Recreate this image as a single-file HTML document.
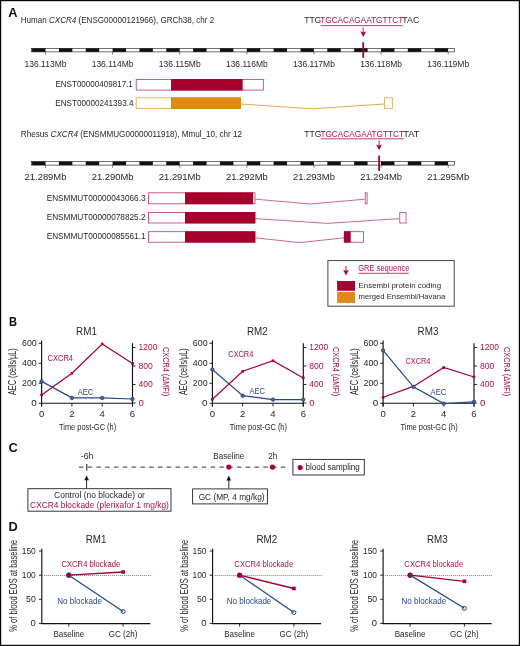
<!DOCTYPE html>
<html><head><meta charset="utf-8"><style>
html,body{margin:0;padding:0;background:#fff;}
svg{display:block;will-change:transform;}
text{font-family:"Liberation Sans",sans-serif;}
</style></head><body>
<svg width="520" height="646" viewBox="0 0 520 646" font-family="Liberation Sans, sans-serif">
<rect x="0.6" y="0.6" width="518.8" height="644.8" fill="#fff" stroke="#060606" stroke-width="1.2"/>
<text x="0" y="0" font-size="12.8" fill="#111" font-weight="bold" transform="translate(8.2,16.8) scale(1.0,1)">A</text>
<text x="0" y="0" font-size="12.8" fill="#111" font-weight="bold" transform="translate(9.1,326.2) scale(0.87,1)">B</text>
<text x="0" y="0" font-size="12.8" fill="#111" font-weight="bold" transform="translate(8.6,452.2) scale(1.0,1)">C</text>
<text x="0" y="0" font-size="12.8" fill="#111" font-weight="bold" transform="translate(8.6,530.8) scale(1.0,1)">D</text>
<text x="20.8" y="22.80" font-size="8.7" fill="#231f20" textLength="193.40" lengthAdjust="spacingAndGlyphs">Human <tspan font-style="italic">CXCR4</tspan> (ENSG00000121966), GRCh38, chr 2</text>
<text x="304.25" y="23.40" font-size="8.7" fill="#231f20" textLength="16.96" lengthAdjust="spacingAndGlyphs" >TTG</text>
<text x="320.31" y="23.40" font-size="8.7" fill="#b0103e" textLength="82.98" lengthAdjust="spacingAndGlyphs" >TGCACAGAATGTTCT</text>
<line x1="320.76" y1="25.60" x2="402.84" y2="25.60" stroke="#b0103e" stroke-width="0.8"/>
<text x="402.39" y="23.40" font-size="8.7" fill="#231f20" textLength="16.96" lengthAdjust="spacingAndGlyphs" >TAC</text>
<line x1="363.2" y1="27.60" x2="363.2" y2="32.60" stroke="#a6002e" stroke-width="0.9"/>
<path d="M360.30,31.20 L363.20,32.50 L366.10,31.20 L363.20,37.00 Z" fill="#a6002e"/>
<rect x="31.3" y="48.30" width="423.20" height="3.6" fill="#fff" stroke="#111" stroke-width="0.6"/>
<rect x="32.08" y="48.30" width="13.42" height="3.6" fill="#111"/>
<rect x="58.92" y="48.30" width="13.42" height="3.6" fill="#111"/>
<rect x="85.76" y="48.30" width="13.42" height="3.6" fill="#111"/>
<rect x="112.60" y="48.30" width="13.42" height="3.6" fill="#111"/>
<rect x="139.44" y="48.30" width="13.42" height="3.6" fill="#111"/>
<rect x="166.28" y="48.30" width="13.42" height="3.6" fill="#111"/>
<rect x="193.12" y="48.30" width="13.42" height="3.6" fill="#111"/>
<rect x="219.96" y="48.30" width="13.42" height="3.6" fill="#111"/>
<rect x="246.80" y="48.30" width="13.42" height="3.6" fill="#111"/>
<rect x="273.64" y="48.30" width="13.42" height="3.6" fill="#111"/>
<rect x="300.48" y="48.30" width="13.42" height="3.6" fill="#111"/>
<rect x="327.32" y="48.30" width="13.42" height="3.6" fill="#111"/>
<rect x="354.16" y="48.30" width="13.42" height="3.6" fill="#111"/>
<rect x="381.00" y="48.30" width="13.42" height="3.6" fill="#111"/>
<rect x="407.84" y="48.30" width="13.42" height="3.6" fill="#111"/>
<rect x="434.68" y="48.30" width="13.42" height="3.6" fill="#111"/>
<line x1="45.50" y1="51.90" x2="45.50" y2="54.60" stroke="#333" stroke-width="0.6"/>
<text x="45.50" y="66.60" font-size="8.4" fill="#231f20" text-anchor="middle" textLength="41.90" lengthAdjust="spacingAndGlyphs" >136.113Mb</text>
<line x1="112.62" y1="51.90" x2="112.62" y2="54.60" stroke="#333" stroke-width="0.6"/>
<text x="112.62" y="66.60" font-size="8.4" fill="#231f20" text-anchor="middle" textLength="41.90" lengthAdjust="spacingAndGlyphs" >136.114Mb</text>
<line x1="179.74" y1="51.90" x2="179.74" y2="54.60" stroke="#333" stroke-width="0.6"/>
<text x="179.74" y="66.60" font-size="8.4" fill="#231f20" text-anchor="middle" textLength="41.90" lengthAdjust="spacingAndGlyphs" >136.115Mb</text>
<line x1="246.86" y1="51.90" x2="246.86" y2="54.60" stroke="#333" stroke-width="0.6"/>
<text x="246.86" y="66.60" font-size="8.4" fill="#231f20" text-anchor="middle" textLength="41.90" lengthAdjust="spacingAndGlyphs" >136.116Mb</text>
<line x1="313.98" y1="51.90" x2="313.98" y2="54.60" stroke="#333" stroke-width="0.6"/>
<text x="313.98" y="66.60" font-size="8.4" fill="#231f20" text-anchor="middle" textLength="41.90" lengthAdjust="spacingAndGlyphs" >136.117Mb</text>
<line x1="381.10" y1="51.90" x2="381.10" y2="54.60" stroke="#333" stroke-width="0.6"/>
<text x="381.10" y="66.60" font-size="8.4" fill="#231f20" text-anchor="middle" textLength="41.90" lengthAdjust="spacingAndGlyphs" >136.118Mb</text>
<line x1="448.22" y1="51.90" x2="448.22" y2="54.60" stroke="#333" stroke-width="0.6"/>
<text x="448.22" y="66.60" font-size="8.4" fill="#231f20" text-anchor="middle" textLength="41.90" lengthAdjust="spacingAndGlyphs" >136.119Mb</text>
<line x1="363.2" y1="42.30" x2="363.2" y2="57.80" stroke="#a6002e" stroke-width="1.8"/>
<text x="20.8" y="136.60" font-size="8.7" fill="#231f20" textLength="221.30" lengthAdjust="spacingAndGlyphs">Rhesus <tspan font-style="italic">CXCR4</tspan> (ENSMMUG00000011918), Mmul_10, chr 12</text>
<text x="304.25" y="136.60" font-size="8.7" fill="#231f20" textLength="17.08" lengthAdjust="spacingAndGlyphs" >TTG</text>
<text x="320.43" y="136.60" font-size="8.7" fill="#b0103e" textLength="83.63" lengthAdjust="spacingAndGlyphs" >TGCACAGAATGTTCT</text>
<line x1="320.88" y1="138.80" x2="403.61" y2="138.80" stroke="#b0103e" stroke-width="0.8"/>
<text x="403.16" y="136.60" font-size="8.7" fill="#231f20" textLength="16.19" lengthAdjust="spacingAndGlyphs" >TAT</text>
<line x1="379.1" y1="140.80" x2="379.1" y2="145.80" stroke="#a6002e" stroke-width="0.9"/>
<path d="M376.20,144.40 L379.10,145.70 L382.00,144.40 L379.10,150.20 Z" fill="#a6002e"/>
<rect x="31.3" y="161.50" width="423.20" height="3.6" fill="#fff" stroke="#111" stroke-width="0.6"/>
<rect x="32.08" y="161.50" width="13.42" height="3.6" fill="#111"/>
<rect x="58.92" y="161.50" width="13.42" height="3.6" fill="#111"/>
<rect x="85.76" y="161.50" width="13.42" height="3.6" fill="#111"/>
<rect x="112.60" y="161.50" width="13.42" height="3.6" fill="#111"/>
<rect x="139.44" y="161.50" width="13.42" height="3.6" fill="#111"/>
<rect x="166.28" y="161.50" width="13.42" height="3.6" fill="#111"/>
<rect x="193.12" y="161.50" width="13.42" height="3.6" fill="#111"/>
<rect x="219.96" y="161.50" width="13.42" height="3.6" fill="#111"/>
<rect x="246.80" y="161.50" width="13.42" height="3.6" fill="#111"/>
<rect x="273.64" y="161.50" width="13.42" height="3.6" fill="#111"/>
<rect x="300.48" y="161.50" width="13.42" height="3.6" fill="#111"/>
<rect x="327.32" y="161.50" width="13.42" height="3.6" fill="#111"/>
<rect x="354.16" y="161.50" width="13.42" height="3.6" fill="#111"/>
<rect x="381.00" y="161.50" width="13.42" height="3.6" fill="#111"/>
<rect x="407.84" y="161.50" width="13.42" height="3.6" fill="#111"/>
<rect x="434.68" y="161.50" width="13.42" height="3.6" fill="#111"/>
<line x1="45.50" y1="165.10" x2="45.50" y2="167.80" stroke="#333" stroke-width="0.6"/>
<text x="45.50" y="179.60" font-size="8.4" fill="#231f20" text-anchor="middle" textLength="41.90" lengthAdjust="spacingAndGlyphs" >21.289Mb</text>
<line x1="112.62" y1="165.10" x2="112.62" y2="167.80" stroke="#333" stroke-width="0.6"/>
<text x="112.62" y="179.60" font-size="8.4" fill="#231f20" text-anchor="middle" textLength="41.90" lengthAdjust="spacingAndGlyphs" >21.290Mb</text>
<line x1="179.74" y1="165.10" x2="179.74" y2="167.80" stroke="#333" stroke-width="0.6"/>
<text x="179.74" y="179.60" font-size="8.4" fill="#231f20" text-anchor="middle" textLength="41.90" lengthAdjust="spacingAndGlyphs" >21.291Mb</text>
<line x1="246.86" y1="165.10" x2="246.86" y2="167.80" stroke="#333" stroke-width="0.6"/>
<text x="246.86" y="179.60" font-size="8.4" fill="#231f20" text-anchor="middle" textLength="41.90" lengthAdjust="spacingAndGlyphs" >21.292Mb</text>
<line x1="313.98" y1="165.10" x2="313.98" y2="167.80" stroke="#333" stroke-width="0.6"/>
<text x="313.98" y="179.60" font-size="8.4" fill="#231f20" text-anchor="middle" textLength="41.90" lengthAdjust="spacingAndGlyphs" >21.293Mb</text>
<line x1="381.10" y1="165.10" x2="381.10" y2="167.80" stroke="#333" stroke-width="0.6"/>
<text x="381.10" y="179.60" font-size="8.4" fill="#231f20" text-anchor="middle" textLength="41.90" lengthAdjust="spacingAndGlyphs" >21.294Mb</text>
<line x1="448.22" y1="165.10" x2="448.22" y2="167.80" stroke="#333" stroke-width="0.6"/>
<text x="448.22" y="179.60" font-size="8.4" fill="#231f20" text-anchor="middle" textLength="41.90" lengthAdjust="spacingAndGlyphs" >21.295Mb</text>
<line x1="379.1" y1="155.50" x2="379.1" y2="171.00" stroke="#a6002e" stroke-width="1.8"/>
<rect x="136.20" y="79.40" width="127.10" height="10.70" fill="#fff" stroke="#c03a5c" stroke-width="0.8"/>
<rect x="171.00" y="79.00" width="71.70" height="11.50" fill="#a6002e"/>
<text x="132.85" y="87.40" font-size="8.6" fill="#231f20" text-anchor="end" textLength="77.40" lengthAdjust="spacingAndGlyphs" >ENST00000409817.1</text>
<rect x="136.20" y="97.80" width="104.40" height="10.80" fill="#fff" stroke="#e6a245" stroke-width="0.8"/>
<rect x="171.00" y="97.40" width="70.00" height="11.60" fill="#df8a16"/>
<polyline points="241.00,104.00 312.60,108.80 384.20,104.00" fill="none" stroke="#df8a16" stroke-width="0.75"/>
<rect x="384.60" y="97.80" width="7.70" height="10.70" fill="#fff" stroke="#e6a245" stroke-width="0.8"/>
<text x="133.45" y="106.10" font-size="8.6" fill="#231f20" text-anchor="end" textLength="78.20" lengthAdjust="spacingAndGlyphs" >ENST00000241393.4</text>
<rect x="148.50" y="192.80" width="106.50" height="11.00" fill="#fff" stroke="#c03a5c" stroke-width="0.8"/>
<rect x="185.00" y="192.40" width="68.10" height="11.80" fill="#a6002e"/>
<polyline points="255.40,199.20 310.10,204.00 364.80,199.20" fill="none" stroke="#c03a5c" stroke-width="0.75"/>
<rect x="365.20" y="192.80" width="1.90" height="11.00" fill="#fff" stroke="#c03a5c" stroke-width="0.8"/>
<text x="145.55" y="201.00" font-size="8.8" fill="#231f20" text-anchor="end" textLength="98.90" lengthAdjust="spacingAndGlyphs" >ENSMMUT00000043066.3</text>
<rect x="148.50" y="212.40" width="106.40" height="10.60" fill="#fff" stroke="#c03a5c" stroke-width="0.8"/>
<rect x="185.00" y="212.00" width="70.30" height="11.40" fill="#a6002e"/>
<polyline points="255.30,218.60 327.35,223.40 399.40,218.60" fill="none" stroke="#c03a5c" stroke-width="0.75"/>
<rect x="399.80" y="212.40" width="6.30" height="10.60" fill="#fff" stroke="#c03a5c" stroke-width="0.8"/>
<text x="145.55" y="220.20" font-size="8.8" fill="#231f20" text-anchor="end" textLength="98.90" lengthAdjust="spacingAndGlyphs" >ENSMMUT00000078825.2</text>
<rect x="148.50" y="231.70" width="106.40" height="10.50" fill="#fff" stroke="#c03a5c" stroke-width="0.8"/>
<rect x="185.00" y="231.30" width="70.30" height="11.30" fill="#a6002e"/>
<polyline points="255.30,237.85 299.60,242.65 343.90,237.85" fill="none" stroke="#c03a5c" stroke-width="0.75"/>
<rect x="344.30" y="231.70" width="19.10" height="10.50" fill="#fff" stroke="#c03a5c" stroke-width="0.8"/>
<rect x="343.90" y="231.30" width="6.80" height="11.30" fill="#a6002e"/>
<text x="145.55" y="239.40" font-size="8.8" fill="#231f20" text-anchor="end" textLength="98.90" lengthAdjust="spacingAndGlyphs" >ENSMMUT00000085561.1</text>
<rect x="327.9" y="260.6" width="126.3" height="45.6" fill="none" stroke="#333" stroke-width="0.9"/>
<line x1="346" y1="266" x2="346" y2="271" stroke="#a6002e" stroke-width="0.9"/>
<path d="M343.1,269.7 L346,271.0 L348.9,269.7 L346,275.6 Z" fill="#a6002e"/>
<text x="358.25" y="270.50" font-size="8.4" fill="#b0103e" textLength="51.10" lengthAdjust="spacingAndGlyphs" >GRE sequence</text>
<line x1="358.7" y1="273.3" x2="408.7" y2="273.3" stroke="#b0103e" stroke-width="0.8"/>
<rect x="337.1" y="281.0" width="17.9" height="9.8" fill="#a6002e"/>
<rect x="337.1" y="291.9" width="17.9" height="11.0" fill="#df8a16"/>
<text x="358.55" y="288.20" font-size="7.9" fill="#231f20" textLength="82.50" lengthAdjust="spacingAndGlyphs" >Ensembl protein coding</text>
<text x="358.55" y="298.90" font-size="7.9" fill="#231f20" textLength="86.70" lengthAdjust="spacingAndGlyphs" >merged Ensembl/Havana</text>
<text x="86.50" y="334.50" font-size="11.3" fill="#231f20" text-anchor="middle" textLength="20.80" lengthAdjust="spacingAndGlyphs" >RM1</text>
<line x1="41.6" y1="340.6" x2="41.6" y2="406.6" stroke="#111" stroke-width="1.15"/>
<line x1="132.50" y1="343.2" x2="132.50" y2="406.6" stroke="#111" stroke-width="1.15"/>
<line x1="41.1" y1="403.3" x2="133.00" y2="403.3" stroke="#111" stroke-width="1.1"/>
<line x1="41.60" y1="403.3" x2="41.60" y2="406.6" stroke="#111" stroke-width="0.9"/>
<text x="41.60" y="416.80" font-size="9.0" fill="#231f20" text-anchor="middle" textLength="5.30" lengthAdjust="spacingAndGlyphs" >0</text>
<line x1="71.90" y1="403.3" x2="71.90" y2="406.6" stroke="#111" stroke-width="0.9"/>
<text x="71.90" y="416.80" font-size="9.0" fill="#231f20" text-anchor="middle" textLength="5.30" lengthAdjust="spacingAndGlyphs" >2</text>
<line x1="102.20" y1="403.3" x2="102.20" y2="406.6" stroke="#111" stroke-width="0.9"/>
<text x="102.20" y="416.80" font-size="9.0" fill="#231f20" text-anchor="middle" textLength="5.30" lengthAdjust="spacingAndGlyphs" >4</text>
<line x1="132.50" y1="403.3" x2="132.50" y2="406.6" stroke="#111" stroke-width="0.9"/>
<text x="132.50" y="416.80" font-size="9.0" fill="#231f20" text-anchor="middle" textLength="5.30" lengthAdjust="spacingAndGlyphs" >6</text>
<line x1="38.70" y1="403.30" x2="41.6" y2="403.30" stroke="#111" stroke-width="0.9"/>
<text x="36.75" y="406.10" font-size="9.0" fill="#231f20" text-anchor="end" textLength="5.50" lengthAdjust="spacingAndGlyphs" >0</text>
<line x1="38.70" y1="383.30" x2="41.6" y2="383.30" stroke="#111" stroke-width="0.9"/>
<text x="36.75" y="386.10" font-size="9.0" fill="#231f20" text-anchor="end" textLength="14.70" lengthAdjust="spacingAndGlyphs" >200</text>
<line x1="38.70" y1="363.30" x2="41.6" y2="363.30" stroke="#111" stroke-width="0.9"/>
<text x="36.75" y="366.10" font-size="9.0" fill="#231f20" text-anchor="end" textLength="14.70" lengthAdjust="spacingAndGlyphs" >400</text>
<line x1="38.70" y1="343.30" x2="41.6" y2="343.30" stroke="#111" stroke-width="0.9"/>
<text x="36.75" y="346.10" font-size="9.0" fill="#231f20" text-anchor="end" textLength="14.70" lengthAdjust="spacingAndGlyphs" >600</text>
<line x1="132.50" y1="403.00" x2="135.50" y2="403.00" stroke="#111" stroke-width="0.9"/>
<text x="138.55" y="405.60" font-size="9.0" fill="#b0103e" textLength="5.37" lengthAdjust="spacingAndGlyphs" >0</text>
<line x1="132.50" y1="384.50" x2="135.50" y2="384.50" stroke="#111" stroke-width="0.9"/>
<text x="138.55" y="387.10" font-size="9.0" fill="#b0103e" textLength="14.31" lengthAdjust="spacingAndGlyphs" >400</text>
<line x1="132.50" y1="366.00" x2="135.50" y2="366.00" stroke="#111" stroke-width="0.9"/>
<text x="138.55" y="368.60" font-size="9.0" fill="#b0103e" textLength="14.31" lengthAdjust="spacingAndGlyphs" >800</text>
<line x1="132.50" y1="347.50" x2="135.50" y2="347.50" stroke="#111" stroke-width="0.9"/>
<text x="138.55" y="350.10" font-size="9.0" fill="#b0103e" textLength="18.78" lengthAdjust="spacingAndGlyphs" >1200</text>
<text x="0" y="0" font-size="10" fill="#231f20" textLength="46.8" lengthAdjust="spacingAndGlyphs" transform="translate(16.10,395.0) rotate(-90)">AEC (cells/µL)</text>
<text x="0" y="0" font-size="9.4" fill="#b0103e" textLength="49.2" lengthAdjust="spacingAndGlyphs" transform="translate(162.50,347.0) rotate(90)">CXCR4 (ΔMFI)</text>
<text x="87.60" y="430.00" font-size="9.8" fill="#231f20" text-anchor="middle" textLength="57.20" lengthAdjust="spacingAndGlyphs" >Time post-GC (h)</text>
<polyline points="41.60,394.90 71.90,373.30 102.20,344.00 132.50,363.40" fill="none" stroke="#a6002e" stroke-width="1.2"/>
<polyline points="41.60,381.40 71.90,397.90 102.20,397.90 132.50,399.00" fill="none" stroke="#27478a" stroke-width="1.2"/>
<rect x="40.30" y="393.60" width="2.6" height="2.6" fill="#a6002e"/>
<rect x="70.60" y="372.00" width="2.6" height="2.6" fill="#a6002e"/>
<rect x="100.90" y="342.70" width="2.6" height="2.6" fill="#a6002e"/>
<rect x="131.20" y="362.10" width="2.6" height="2.6" fill="#a6002e"/>
<circle cx="41.60" cy="381.40" r="1.7" fill="#4a66a0" stroke="#27478a" stroke-width="0.9"/>
<circle cx="71.90" cy="397.90" r="1.7" fill="#4a66a0" stroke="#27478a" stroke-width="0.9"/>
<circle cx="102.20" cy="397.90" r="1.7" fill="#4a66a0" stroke="#27478a" stroke-width="0.9"/>
<circle cx="132.50" cy="399.00" r="1.7" fill="#4a66a0" stroke="#27478a" stroke-width="0.9"/>
<text x="47.55" y="360.80" font-size="8.7" fill="#b0103e" textLength="25.50" lengthAdjust="spacingAndGlyphs" >CXCR4</text>
<text x="77.65" y="395.00" font-size="8.4" fill="#27478a" textLength="15.70" lengthAdjust="spacingAndGlyphs" >AEC</text>
<text x="257.30" y="334.50" font-size="11.3" fill="#231f20" text-anchor="middle" textLength="20.80" lengthAdjust="spacingAndGlyphs" >RM2</text>
<line x1="212.4" y1="340.6" x2="212.4" y2="406.6" stroke="#111" stroke-width="1.15"/>
<line x1="303.30" y1="343.2" x2="303.30" y2="406.6" stroke="#111" stroke-width="1.15"/>
<line x1="211.9" y1="403.3" x2="303.80" y2="403.3" stroke="#111" stroke-width="1.1"/>
<line x1="212.40" y1="403.3" x2="212.40" y2="406.6" stroke="#111" stroke-width="0.9"/>
<text x="212.40" y="416.80" font-size="9.0" fill="#231f20" text-anchor="middle" textLength="5.30" lengthAdjust="spacingAndGlyphs" >0</text>
<line x1="242.70" y1="403.3" x2="242.70" y2="406.6" stroke="#111" stroke-width="0.9"/>
<text x="242.70" y="416.80" font-size="9.0" fill="#231f20" text-anchor="middle" textLength="5.30" lengthAdjust="spacingAndGlyphs" >2</text>
<line x1="273.00" y1="403.3" x2="273.00" y2="406.6" stroke="#111" stroke-width="0.9"/>
<text x="273.00" y="416.80" font-size="9.0" fill="#231f20" text-anchor="middle" textLength="5.30" lengthAdjust="spacingAndGlyphs" >4</text>
<line x1="303.30" y1="403.3" x2="303.30" y2="406.6" stroke="#111" stroke-width="0.9"/>
<text x="303.30" y="416.80" font-size="9.0" fill="#231f20" text-anchor="middle" textLength="5.30" lengthAdjust="spacingAndGlyphs" >6</text>
<line x1="209.50" y1="403.30" x2="212.4" y2="403.30" stroke="#111" stroke-width="0.9"/>
<text x="207.55" y="406.10" font-size="9.0" fill="#231f20" text-anchor="end" textLength="5.50" lengthAdjust="spacingAndGlyphs" >0</text>
<line x1="209.50" y1="383.30" x2="212.4" y2="383.30" stroke="#111" stroke-width="0.9"/>
<text x="207.55" y="386.10" font-size="9.0" fill="#231f20" text-anchor="end" textLength="14.70" lengthAdjust="spacingAndGlyphs" >200</text>
<line x1="209.50" y1="363.30" x2="212.4" y2="363.30" stroke="#111" stroke-width="0.9"/>
<text x="207.55" y="366.10" font-size="9.0" fill="#231f20" text-anchor="end" textLength="14.70" lengthAdjust="spacingAndGlyphs" >400</text>
<line x1="209.50" y1="343.30" x2="212.4" y2="343.30" stroke="#111" stroke-width="0.9"/>
<text x="207.55" y="346.10" font-size="9.0" fill="#231f20" text-anchor="end" textLength="14.70" lengthAdjust="spacingAndGlyphs" >600</text>
<line x1="303.30" y1="403.00" x2="306.30" y2="403.00" stroke="#111" stroke-width="0.9"/>
<text x="309.35" y="405.60" font-size="9.0" fill="#b0103e" textLength="5.37" lengthAdjust="spacingAndGlyphs" >0</text>
<line x1="303.30" y1="384.50" x2="306.30" y2="384.50" stroke="#111" stroke-width="0.9"/>
<text x="309.35" y="387.10" font-size="9.0" fill="#b0103e" textLength="14.31" lengthAdjust="spacingAndGlyphs" >400</text>
<line x1="303.30" y1="366.00" x2="306.30" y2="366.00" stroke="#111" stroke-width="0.9"/>
<text x="309.35" y="368.60" font-size="9.0" fill="#b0103e" textLength="14.31" lengthAdjust="spacingAndGlyphs" >800</text>
<line x1="303.30" y1="347.50" x2="306.30" y2="347.50" stroke="#111" stroke-width="0.9"/>
<text x="309.35" y="350.10" font-size="9.0" fill="#b0103e" textLength="18.78" lengthAdjust="spacingAndGlyphs" >1200</text>
<text x="0" y="0" font-size="10" fill="#231f20" textLength="46.8" lengthAdjust="spacingAndGlyphs" transform="translate(186.90,395.0) rotate(-90)">AEC (cells/µL)</text>
<text x="0" y="0" font-size="9.4" fill="#b0103e" textLength="49.2" lengthAdjust="spacingAndGlyphs" transform="translate(333.30,347.0) rotate(90)">CXCR4 (ΔMFI)</text>
<text x="258.40" y="430.00" font-size="9.8" fill="#231f20" text-anchor="middle" textLength="57.20" lengthAdjust="spacingAndGlyphs" >Time post-GC (h)</text>
<polyline points="212.40,399.20 242.70,371.30 273.00,360.70 303.30,377.90" fill="none" stroke="#a6002e" stroke-width="1.2"/>
<polyline points="212.40,369.50 242.70,395.70 273.00,399.60 303.30,399.60" fill="none" stroke="#27478a" stroke-width="1.2"/>
<rect x="211.10" y="397.90" width="2.6" height="2.6" fill="#a6002e"/>
<rect x="241.40" y="370.00" width="2.6" height="2.6" fill="#a6002e"/>
<rect x="271.70" y="359.40" width="2.6" height="2.6" fill="#a6002e"/>
<rect x="302.00" y="376.60" width="2.6" height="2.6" fill="#a6002e"/>
<circle cx="212.40" cy="369.50" r="1.7" fill="#4a66a0" stroke="#27478a" stroke-width="0.9"/>
<circle cx="242.70" cy="395.70" r="1.7" fill="#4a66a0" stroke="#27478a" stroke-width="0.9"/>
<circle cx="273.00" cy="399.60" r="1.7" fill="#4a66a0" stroke="#27478a" stroke-width="0.9"/>
<circle cx="303.30" cy="399.60" r="1.7" fill="#4a66a0" stroke="#27478a" stroke-width="0.9"/>
<text x="228.35" y="357.00" font-size="8.7" fill="#b0103e" textLength="24.90" lengthAdjust="spacingAndGlyphs" >CXCR4</text>
<text x="249.45" y="393.60" font-size="8.4" fill="#27478a" textLength="15.70" lengthAdjust="spacingAndGlyphs" >AEC</text>
<text x="428.00" y="334.50" font-size="11.3" fill="#231f20" text-anchor="middle" textLength="20.80" lengthAdjust="spacingAndGlyphs" >RM3</text>
<line x1="383.1" y1="340.6" x2="383.1" y2="406.6" stroke="#111" stroke-width="1.15"/>
<line x1="474.00" y1="343.2" x2="474.00" y2="406.6" stroke="#111" stroke-width="1.15"/>
<line x1="382.6" y1="403.3" x2="474.50" y2="403.3" stroke="#111" stroke-width="1.1"/>
<line x1="383.10" y1="403.3" x2="383.10" y2="406.6" stroke="#111" stroke-width="0.9"/>
<text x="383.10" y="416.80" font-size="9.0" fill="#231f20" text-anchor="middle" textLength="5.30" lengthAdjust="spacingAndGlyphs" >0</text>
<line x1="413.40" y1="403.3" x2="413.40" y2="406.6" stroke="#111" stroke-width="0.9"/>
<text x="413.40" y="416.80" font-size="9.0" fill="#231f20" text-anchor="middle" textLength="5.30" lengthAdjust="spacingAndGlyphs" >2</text>
<line x1="443.70" y1="403.3" x2="443.70" y2="406.6" stroke="#111" stroke-width="0.9"/>
<text x="443.70" y="416.80" font-size="9.0" fill="#231f20" text-anchor="middle" textLength="5.30" lengthAdjust="spacingAndGlyphs" >4</text>
<line x1="474.00" y1="403.3" x2="474.00" y2="406.6" stroke="#111" stroke-width="0.9"/>
<text x="474.00" y="416.80" font-size="9.0" fill="#231f20" text-anchor="middle" textLength="5.30" lengthAdjust="spacingAndGlyphs" >6</text>
<line x1="380.20" y1="403.30" x2="383.1" y2="403.30" stroke="#111" stroke-width="0.9"/>
<text x="378.25" y="406.10" font-size="9.0" fill="#231f20" text-anchor="end" textLength="5.50" lengthAdjust="spacingAndGlyphs" >0</text>
<line x1="380.20" y1="383.30" x2="383.1" y2="383.30" stroke="#111" stroke-width="0.9"/>
<text x="378.25" y="386.10" font-size="9.0" fill="#231f20" text-anchor="end" textLength="14.70" lengthAdjust="spacingAndGlyphs" >200</text>
<line x1="380.20" y1="363.30" x2="383.1" y2="363.30" stroke="#111" stroke-width="0.9"/>
<text x="378.25" y="366.10" font-size="9.0" fill="#231f20" text-anchor="end" textLength="14.70" lengthAdjust="spacingAndGlyphs" >400</text>
<line x1="380.20" y1="343.30" x2="383.1" y2="343.30" stroke="#111" stroke-width="0.9"/>
<text x="378.25" y="346.10" font-size="9.0" fill="#231f20" text-anchor="end" textLength="14.70" lengthAdjust="spacingAndGlyphs" >600</text>
<line x1="474.00" y1="403.00" x2="477.00" y2="403.00" stroke="#111" stroke-width="0.9"/>
<text x="480.05" y="405.60" font-size="9.0" fill="#b0103e" textLength="5.37" lengthAdjust="spacingAndGlyphs" >0</text>
<line x1="474.00" y1="384.50" x2="477.00" y2="384.50" stroke="#111" stroke-width="0.9"/>
<text x="480.05" y="387.10" font-size="9.0" fill="#b0103e" textLength="14.31" lengthAdjust="spacingAndGlyphs" >400</text>
<line x1="474.00" y1="366.00" x2="477.00" y2="366.00" stroke="#111" stroke-width="0.9"/>
<text x="480.05" y="368.60" font-size="9.0" fill="#b0103e" textLength="14.31" lengthAdjust="spacingAndGlyphs" >800</text>
<line x1="474.00" y1="347.50" x2="477.00" y2="347.50" stroke="#111" stroke-width="0.9"/>
<text x="480.05" y="350.10" font-size="9.0" fill="#b0103e" textLength="18.78" lengthAdjust="spacingAndGlyphs" >1200</text>
<text x="0" y="0" font-size="10" fill="#231f20" textLength="46.8" lengthAdjust="spacingAndGlyphs" transform="translate(357.60,395.0) rotate(-90)">AEC (cells/µL)</text>
<text x="0" y="0" font-size="9.4" fill="#b0103e" textLength="49.2" lengthAdjust="spacingAndGlyphs" transform="translate(504.00,347.0) rotate(90)">CXCR4 (ΔMFI)</text>
<text x="429.10" y="430.00" font-size="9.8" fill="#231f20" text-anchor="middle" textLength="57.20" lengthAdjust="spacingAndGlyphs" >Time post-GC (h)</text>
<polyline points="383.10,397.30 413.40,386.40 443.70,367.50 474.00,377.00" fill="none" stroke="#a6002e" stroke-width="1.2"/>
<polyline points="383.10,350.40 413.40,386.90 443.70,403.60 474.00,401.80" fill="none" stroke="#27478a" stroke-width="1.2"/>
<rect x="381.80" y="396.00" width="2.6" height="2.6" fill="#a6002e"/>
<rect x="412.10" y="385.10" width="2.6" height="2.6" fill="#a6002e"/>
<rect x="442.40" y="366.20" width="2.6" height="2.6" fill="#a6002e"/>
<rect x="472.70" y="375.70" width="2.6" height="2.6" fill="#a6002e"/>
<circle cx="383.10" cy="350.40" r="1.7" fill="#4a66a0" stroke="#27478a" stroke-width="0.9"/>
<circle cx="413.40" cy="386.90" r="1.7" fill="#4a66a0" stroke="#27478a" stroke-width="0.9"/>
<circle cx="443.70" cy="403.60" r="1.7" fill="#4a66a0" stroke="#27478a" stroke-width="0.9"/>
<circle cx="474.00" cy="401.80" r="1.7" fill="#4a66a0" stroke="#27478a" stroke-width="0.9"/>
<text x="405.55" y="363.70" font-size="8.7" fill="#b0103e" textLength="24.90" lengthAdjust="spacingAndGlyphs" >CXCR4</text>
<text x="430.55" y="394.60" font-size="8.4" fill="#27478a" textLength="15.70" lengthAdjust="spacingAndGlyphs" >AEC</text>
<line x1="78.9" y1="467.1" x2="285.6" y2="467.1" stroke="#585858" stroke-width="1.45" stroke-dasharray="4.5 4.28"/>
<line x1="86.7" y1="464.0" x2="86.7" y2="470.7" stroke="#585858" stroke-width="1.4"/>
<text x="80.75" y="459.30" font-size="8.3" fill="#231f20" textLength="12.60" lengthAdjust="spacingAndGlyphs" >-6h</text>
<text x="213.35" y="459.30" font-size="8.3" fill="#231f20" textLength="30.90" lengthAdjust="spacingAndGlyphs" >Baseline</text>
<text x="268.25" y="459.30" font-size="8.3" fill="#231f20" textLength="9.10" lengthAdjust="spacingAndGlyphs" >2h</text>
<circle cx="228.8" cy="467.1" r="2.6" fill="#a6002e"/>
<circle cx="272.5" cy="467.1" r="2.6" fill="#a6002e"/>
<line x1="86.6" y1="478.20" x2="86.6" y2="488.60" stroke="#111" stroke-width="0.9"/>
<path d="M84.30,480.20 L88.90,480.20 L86.60,475.20 Z" fill="#111"/>
<line x1="228.8" y1="478.40" x2="228.8" y2="488.60" stroke="#111" stroke-width="0.9"/>
<path d="M226.50,480.40 L231.10,480.40 L228.80,475.40 Z" fill="#111"/>
<rect x="27.9" y="488.7" width="143.1" height="22.5" fill="#fff" stroke="#222" stroke-width="0.9"/>
<text x="99.50" y="497.60" font-size="8.9" fill="#231f20" text-anchor="middle" textLength="90.90" lengthAdjust="spacingAndGlyphs" >Control (no blockade) or</text>
<text x="99.50" y="507.70" font-size="8.9" fill="#b0103e" text-anchor="middle" textLength="138.80" lengthAdjust="spacingAndGlyphs" >CXCR4 blockade (plerixafor 1 mg/kg)</text>
<rect x="192.6" y="488.9" width="74.8" height="15.0" fill="#fff" stroke="#222" stroke-width="0.9"/>
<text x="198.65" y="499.60" font-size="8.4" fill="#231f20" textLength="65.90" lengthAdjust="spacingAndGlyphs" >GC (MP, 4 mg/kg)</text>
<rect x="292.9" y="459.4" width="71.4" height="15.6" fill="#fff" stroke="#222" stroke-width="0.9"/>
<circle cx="300.2" cy="467.6" r="2.6" fill="#a6002e"/>
<text x="305.55" y="470.40" font-size="8.3" fill="#231f20" textLength="54.30" lengthAdjust="spacingAndGlyphs" >blood sampling</text>
<text x="96.00" y="542.80" font-size="11.3" fill="#231f20" text-anchor="middle" textLength="20.70" lengthAdjust="spacingAndGlyphs" >RM1</text>
<line x1="41.8" y1="548.8" x2="41.8" y2="624.1" stroke="#111" stroke-width="1.15"/>
<line x1="41.3" y1="623.6" x2="150.30" y2="623.6" stroke="#111" stroke-width="1.1"/>
<line x1="38.90" y1="623.40" x2="41.8" y2="623.40" stroke="#111" stroke-width="0.9"/>
<text x="35.75" y="626.40" font-size="8.8" fill="#231f20" text-anchor="end" textLength="5.27" lengthAdjust="spacingAndGlyphs" >0</text>
<line x1="38.90" y1="599.27" x2="41.8" y2="599.27" stroke="#111" stroke-width="0.9"/>
<text x="35.75" y="602.27" font-size="8.8" fill="#231f20" text-anchor="end" textLength="9.64" lengthAdjust="spacingAndGlyphs" >50</text>
<line x1="38.90" y1="575.15" x2="41.8" y2="575.15" stroke="#111" stroke-width="0.9"/>
<text x="35.75" y="578.15" font-size="8.8" fill="#231f20" text-anchor="end" textLength="14.01" lengthAdjust="spacingAndGlyphs" >100</text>
<line x1="38.90" y1="551.02" x2="41.8" y2="551.02" stroke="#111" stroke-width="0.9"/>
<text x="35.75" y="554.02" font-size="8.8" fill="#231f20" text-anchor="end" textLength="14.01" lengthAdjust="spacingAndGlyphs" >150</text>
<line x1="68.80" y1="623.6" x2="68.80" y2="626.5" stroke="#111" stroke-width="0.9"/>
<line x1="123.10" y1="623.6" x2="123.10" y2="626.5" stroke="#111" stroke-width="0.9"/>
<text x="68.80" y="636.50" font-size="8.3" fill="#231f20" text-anchor="middle" textLength="30.70" lengthAdjust="spacingAndGlyphs" >Baseline</text>
<text x="123.10" y="636.50" font-size="8.3" fill="#231f20" text-anchor="middle" textLength="28.60" lengthAdjust="spacingAndGlyphs" >GC (2h)</text>
<text x="0" y="0" font-size="11" fill="#231f20" textLength="91.8" lengthAdjust="spacingAndGlyphs" transform="translate(16.80,631.7) rotate(-90)">% of blood EOS at baseline</text>
<line x1="43.90" y1="575.5" x2="150.90" y2="575.5" stroke="#4d6ca6" stroke-width="0.85" stroke-dasharray="1 1"/>
<circle cx="123.10" cy="611.50" r="2.0" fill="#fff" stroke="#27478a" stroke-width="1.0"/>
<line x1="68.80" y1="575.15" x2="123.10" y2="611.50" stroke="#27478a" stroke-width="1.25"/>
<line x1="68.80" y1="575.15" x2="123.10" y2="572.00" stroke="#a6002e" stroke-width="1.35"/>
<circle cx="68.80" cy="575.15" r="2.7" fill="#27478a"/>
<circle cx="68.80" cy="575.15" r="2.3" fill="#a6002e"/>
<rect x="121.30" y="570.20" width="3.6" height="3.6" fill="#a6002e"/>
<text x="61.45" y="567.40" font-size="8.3" fill="#b0103e" textLength="58.80" lengthAdjust="spacingAndGlyphs" >CXCR4 blockade</text>
<text x="57.25" y="603.50" font-size="8.4" fill="#27478a" textLength="44.70" lengthAdjust="spacingAndGlyphs" >No blockade</text>
<text x="266.80" y="542.80" font-size="11.3" fill="#231f20" text-anchor="middle" textLength="20.70" lengthAdjust="spacingAndGlyphs" >RM2</text>
<line x1="212.6" y1="548.8" x2="212.6" y2="624.1" stroke="#111" stroke-width="1.15"/>
<line x1="212.1" y1="623.6" x2="321.10" y2="623.6" stroke="#111" stroke-width="1.1"/>
<line x1="209.70" y1="623.40" x2="212.6" y2="623.40" stroke="#111" stroke-width="0.9"/>
<text x="206.55" y="626.40" font-size="8.8" fill="#231f20" text-anchor="end" textLength="5.27" lengthAdjust="spacingAndGlyphs" >0</text>
<line x1="209.70" y1="599.27" x2="212.6" y2="599.27" stroke="#111" stroke-width="0.9"/>
<text x="206.55" y="602.27" font-size="8.8" fill="#231f20" text-anchor="end" textLength="9.64" lengthAdjust="spacingAndGlyphs" >50</text>
<line x1="209.70" y1="575.15" x2="212.6" y2="575.15" stroke="#111" stroke-width="0.9"/>
<text x="206.55" y="578.15" font-size="8.8" fill="#231f20" text-anchor="end" textLength="14.01" lengthAdjust="spacingAndGlyphs" >100</text>
<line x1="209.70" y1="551.02" x2="212.6" y2="551.02" stroke="#111" stroke-width="0.9"/>
<text x="206.55" y="554.02" font-size="8.8" fill="#231f20" text-anchor="end" textLength="14.01" lengthAdjust="spacingAndGlyphs" >150</text>
<line x1="239.60" y1="623.6" x2="239.60" y2="626.5" stroke="#111" stroke-width="0.9"/>
<line x1="293.90" y1="623.6" x2="293.90" y2="626.5" stroke="#111" stroke-width="0.9"/>
<text x="239.60" y="636.50" font-size="8.3" fill="#231f20" text-anchor="middle" textLength="30.70" lengthAdjust="spacingAndGlyphs" >Baseline</text>
<text x="293.90" y="636.50" font-size="8.3" fill="#231f20" text-anchor="middle" textLength="28.60" lengthAdjust="spacingAndGlyphs" >GC (2h)</text>
<text x="0" y="0" font-size="11" fill="#231f20" textLength="91.8" lengthAdjust="spacingAndGlyphs" transform="translate(187.60,631.7) rotate(-90)">% of blood EOS at baseline</text>
<line x1="214.70" y1="575.5" x2="321.70" y2="575.5" stroke="#4d6ca6" stroke-width="0.85" stroke-dasharray="1 1"/>
<circle cx="293.90" cy="612.50" r="2.0" fill="#fff" stroke="#27478a" stroke-width="1.0"/>
<line x1="239.60" y1="575.15" x2="293.90" y2="612.50" stroke="#27478a" stroke-width="1.25"/>
<line x1="239.60" y1="575.15" x2="293.90" y2="588.50" stroke="#a6002e" stroke-width="1.35"/>
<circle cx="239.60" cy="575.15" r="2.7" fill="#27478a"/>
<circle cx="239.60" cy="575.15" r="2.3" fill="#a6002e"/>
<rect x="292.10" y="586.70" width="3.6" height="3.6" fill="#a6002e"/>
<text x="234.35" y="567.40" font-size="8.3" fill="#b0103e" textLength="58.80" lengthAdjust="spacingAndGlyphs" >CXCR4 blockade</text>
<text x="226.65" y="603.50" font-size="8.4" fill="#27478a" textLength="44.70" lengthAdjust="spacingAndGlyphs" >No blockade</text>
<text x="437.30" y="542.80" font-size="11.3" fill="#231f20" text-anchor="middle" textLength="20.70" lengthAdjust="spacingAndGlyphs" >RM3</text>
<line x1="383.1" y1="548.8" x2="383.1" y2="624.1" stroke="#111" stroke-width="1.15"/>
<line x1="382.6" y1="623.6" x2="491.60" y2="623.6" stroke="#111" stroke-width="1.1"/>
<line x1="380.20" y1="623.40" x2="383.1" y2="623.40" stroke="#111" stroke-width="0.9"/>
<text x="377.05" y="626.40" font-size="8.8" fill="#231f20" text-anchor="end" textLength="5.27" lengthAdjust="spacingAndGlyphs" >0</text>
<line x1="380.20" y1="599.27" x2="383.1" y2="599.27" stroke="#111" stroke-width="0.9"/>
<text x="377.05" y="602.27" font-size="8.8" fill="#231f20" text-anchor="end" textLength="9.64" lengthAdjust="spacingAndGlyphs" >50</text>
<line x1="380.20" y1="575.15" x2="383.1" y2="575.15" stroke="#111" stroke-width="0.9"/>
<text x="377.05" y="578.15" font-size="8.8" fill="#231f20" text-anchor="end" textLength="14.01" lengthAdjust="spacingAndGlyphs" >100</text>
<line x1="380.20" y1="551.02" x2="383.1" y2="551.02" stroke="#111" stroke-width="0.9"/>
<text x="377.05" y="554.02" font-size="8.8" fill="#231f20" text-anchor="end" textLength="14.01" lengthAdjust="spacingAndGlyphs" >150</text>
<line x1="410.10" y1="623.6" x2="410.10" y2="626.5" stroke="#111" stroke-width="0.9"/>
<line x1="464.40" y1="623.6" x2="464.40" y2="626.5" stroke="#111" stroke-width="0.9"/>
<text x="410.10" y="636.50" font-size="8.3" fill="#231f20" text-anchor="middle" textLength="30.70" lengthAdjust="spacingAndGlyphs" >Baseline</text>
<text x="464.40" y="636.50" font-size="8.3" fill="#231f20" text-anchor="middle" textLength="28.60" lengthAdjust="spacingAndGlyphs" >GC (2h)</text>
<text x="0" y="0" font-size="11" fill="#231f20" textLength="91.8" lengthAdjust="spacingAndGlyphs" transform="translate(358.10,631.7) rotate(-90)">% of blood EOS at baseline</text>
<line x1="385.20" y1="575.5" x2="492.20" y2="575.5" stroke="#4d6ca6" stroke-width="0.85" stroke-dasharray="1 1"/>
<circle cx="464.40" cy="608.30" r="2.0" fill="#fff" stroke="#27478a" stroke-width="1.0"/>
<line x1="410.10" y1="575.15" x2="464.40" y2="608.30" stroke="#27478a" stroke-width="1.25"/>
<line x1="410.10" y1="575.15" x2="464.40" y2="581.30" stroke="#a6002e" stroke-width="1.35"/>
<circle cx="410.10" cy="575.15" r="2.7" fill="#27478a"/>
<circle cx="410.10" cy="575.15" r="2.3" fill="#a6002e"/>
<rect x="462.60" y="579.50" width="3.6" height="3.6" fill="#a6002e"/>
<text x="404.35" y="567.40" font-size="8.3" fill="#b0103e" textLength="58.80" lengthAdjust="spacingAndGlyphs" >CXCR4 blockade</text>
<text x="401.55" y="603.50" font-size="8.4" fill="#27478a" textLength="44.70" lengthAdjust="spacingAndGlyphs" >No blockade</text>
</svg>
</body></html>
